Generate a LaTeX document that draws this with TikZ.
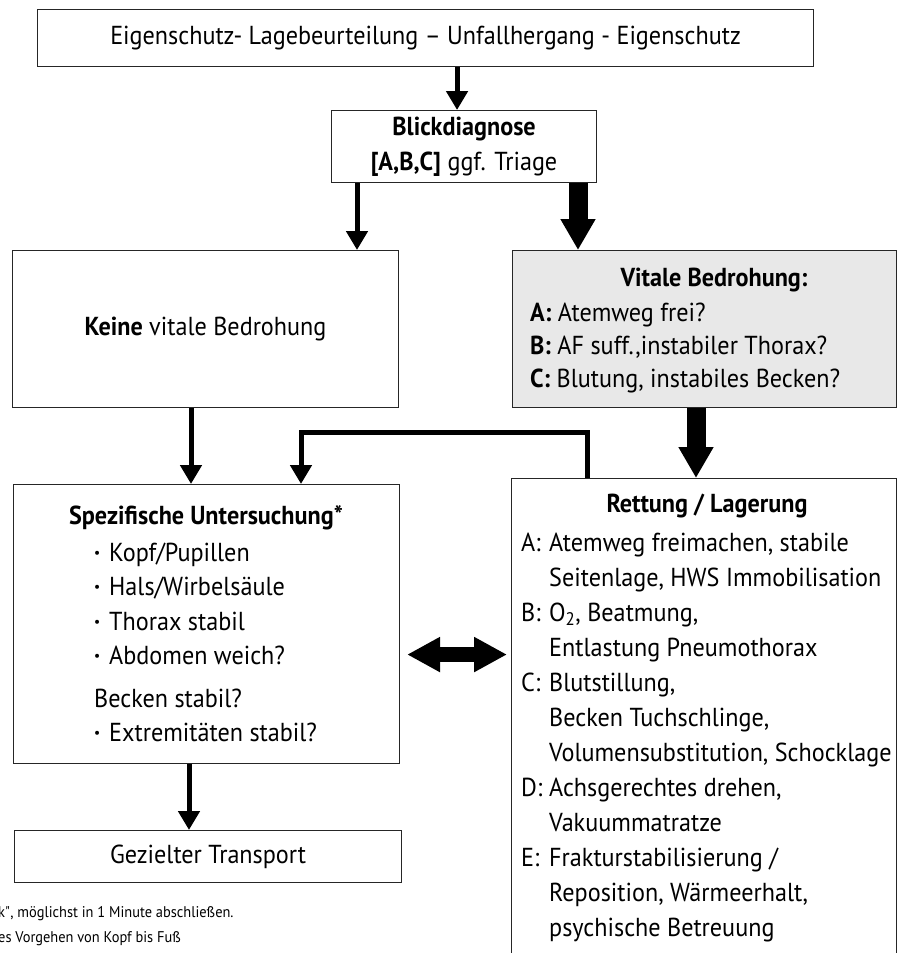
\documentclass[tikz,border=0pt]{standalone}
\usepackage{fontspec}
\setmainfont[FakeStretch=0.93]{PT Sans}
\usetikzlibrary{arrows.meta,calc}
\newcommand\boxfont{\fontsize{26}{35}\selectfont}
\newcommand\notefont{\fontsize{15.5}{27}\selectfont}

\begin{document}
\begin{tikzpicture}[
  x=1pt, y=-1pt,
  font=\boxfont,
  box/.style={draw=black!85, line width=1.1pt, inner sep=0pt, anchor=north west, align=center},
  vitalbox/.style={box, fill=black!9},
  txt/.style={inner sep=0pt},
  arr/.style={line width=5pt, -{Triangle[length=19pt,width=21pt]}},
  fatarr/.style={line width=19pt, -{Triangle[length=31pt,width=33pt]}},
  dblarr/.style={line width=15pt, {Triangle[length=33pt,width=33pt]}-{Triangle[length=33pt,width=33pt]}}
]
\useasboundingbox (0,0) rectangle (897,953);
\clip (0,0) rectangle (897,953);
% boxes
\node[box, minimum width=776pt, minimum height=57pt] (lage) at (37,9) {Eigenschutz- Lagebeurteilung – Unfallhergang - Eigenschutz};
\node[box, minimum width=265pt, minimum height=72pt] (blick) at (331,110) {\textbf{Blickdiagnose}\\\textbf{[A,B,C]} ggf. Triage};
\node[box, minimum width=386pt, minimum height=157pt] (keine) at (12,250) {\textbf{Keine} vitale Bedrohung};
\node[vitalbox, minimum width=384pt, minimum height=157pt] (vital) at (512,250) {};
\node[box, minimum width=386pt, minimum height=279pt] (spez) at (13,484) {};
\node[box, minimum width=385pt, minimum height=500pt] (rett) at (511,478) {};
\node[box, minimum width=387pt, minimum height=52pt] (ziel) at (14,830) {Gezielter Transport};
% box texts
\node[txt, anchor=base] (vitalhead) at (714,286) {\textbf{Vitale Bedrohung:}};
\node[txt, anchor=base west] (vitalabc) at (530,321) {\fontsize{26}{33}\selectfont
  \begin{tabular}[t]{@{}l@{}}
    \textbf{A:} Atemweg frei?\\
    \textbf{B:} AF suff.,instabiler Thorax?\\
    \textbf{C:} Blutung, instabiles Becken?
  \end{tabular}};
\node[txt, anchor=base] (spezhead) at (206,524) {\textbf{Spezifische Untersuchung*}};
\node[txt, anchor=base west] (spezlist) at (94,561) {\fontsize{26}{34.5}\selectfont
  \begin{tabular}[t]{@{}p{15pt}@{}l@{}}
    \textbf{·} & Kopf/Pupillen\\
    \textbf{·} & Hals/Wirbelsäule\\
    \textbf{·} & Thorax stabil\\
    \textbf{·} & Abdomen weich?\\[8pt]
    \multicolumn{2}{@{}l@{}}{Becken stabil?}\\
    \textbf{·} & Extremitäten stabil?
  \end{tabular}};
\node[txt, anchor=base] (retthead) at (707,512) {\textbf{Rettung / Lagerung}};
\node[txt, anchor=base west] (rettlist) at (521,551) {\fontsize{26}{35}\selectfont
  \begin{tabular}[t]{@{}p{28pt}@{}l@{}}
    A: & Atemweg freimachen, stabile\\
       & Seitenlage, HWS Immobilisation\\
    B: & O\textsubscript{2}, Beatmung,\\
       & Entlastung Pneumothorax\\
    C: & Blutstillung,\\
       & Becken Tuchschlinge,\\
       & Volumensubstitution, Schocklage\\
    D: & Achsgerechtes drehen,\\
       & Vakuummatratze\\
    E: & Frakturstabilisierung /\\
       & Reposition, Wärmeerhalt,\\
       & psychische Betreuung
  \end{tabular}};
% footnote at the lower left
\node[txt, anchor=base west, font=\notefont] (note1) at (-2,917) {k\textquotedbl, möglichst in 1 Minute abschließen.};
\node[txt, anchor=base west, font=\notefont] (note2) at (-2,942) {es Vorgehen von Kopf bis Fuß};
% connectors
\coordinate (a1) at ([xshift=-7pt]blick.north);
\coordinate (b1) at ([xshift=26pt]blick.south west);
\coordinate (b2) at ([xshift=247pt]blick.south west);
\coordinate (k1) at ([xshift=179pt]keine.south west);
\coordinate (v1) at ([xshift=184pt]vital.south west);
\coordinate (r1) at ([xshift=76pt]rett.north west);
\coordinate (s1) at ([xshift=288pt]spez.north west);
\coordinate (s2) at ([yshift=52pt]s1);
\coordinate (z1) at ([xshift=176pt]spez.south west);
\coordinate (d1) at ([xshift=7pt,yshift=-30.5pt]spez.east);
\coordinate (d2) at ([xshift=-4pt]rett.west);
\draw[arr] (a1 |- lage.south) -- (a1);
\draw[arr] (b1) -- (b1 |- keine.north);
\draw[fatarr] (b2) -- (b2 |- vital.north);
\draw[arr] (k1) -- (k1 |- spez.north);
\draw[fatarr] (v1) -- (v1 |- rett.north);
\draw[arr] (r1) |- (s2) -- (s1);
\draw[arr] (z1) -- (z1 |- ziel.north);
\draw[dblarr] (d1) -- (d2 |- d1);
\end{tikzpicture}
\end{document}
